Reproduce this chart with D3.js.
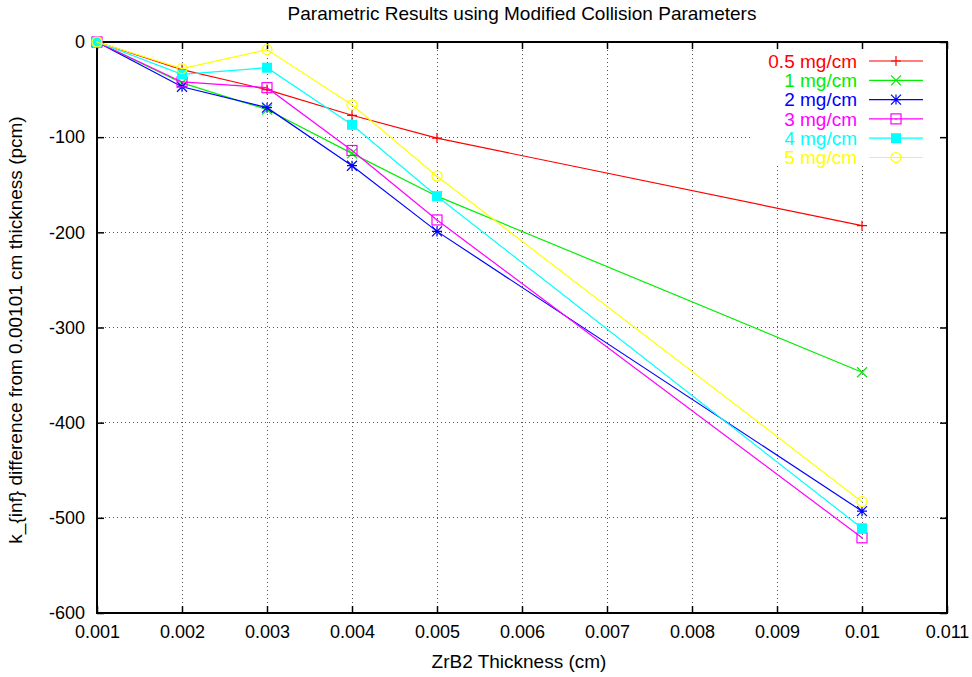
<!DOCTYPE html>
<html>
<head>
<meta charset="utf-8">
<script src="https://cdn.jsdelivr.net/npm/d3@7"></script>
<style>
  body { margin: 0; background: #fff; }
  svg { font-family: "Liberation Sans", Arial, sans-serif; }
</style>
</head>
<body>
<svg id="chart" width="972" height="677"></svg>
<script>
// thickness values (cm)
const thickness = [0.001, 0.002, 0.003, 0.004, 0.005, 0.01];

// k_inf difference (pcm) for each collision parameter
const s05 = [0, -29, -50, -77, -101, -193];
const s1 = [0, -43, -71, -117, -162, -347];
const s2 = [0, -47, -69, -130, -199, -493];
const s3 = [0, -42, -48, -114, -187, -521];
const s4 = [0, -34, -27, -87, -162, -511];
const s5 = [0, -28, -8, -66, -141, -483];

const seriesNames = ["0.5 mg/cm", "1 mg/cm", "2 mg/cm", "3 mg/cm", "4 mg/cm", "5 mg/cm"];
const seriesColors = ["#ff0000", "#00ee00", "#0000ff", "#ff00ff", "#00ffff", "#ffff00"];
const seriesMarkers = ["plus", "cross", "star", "box", "fillbox", "circle"];
const seriesValues = [s05, s1, s2, s3, s4, s5];

const xTicks = [0.001, 0.002, 0.003, 0.004, 0.005, 0.006, 0.007, 0.008, 0.009, 0.01, 0.011];
const yTicks = [0, -100, -200, -300, -400, -500, -600];

const svg = d3.select("#chart");
const margin = {left: 97, right: 25, top: 42, bottom: 64};
const W = 972, H = 677;

const x = d3.scaleLinear().domain([0.001, 0.011]).range([margin.left, W - margin.right]);
const y = d3.scaleLinear().domain([-600, 0]).range([H - margin.bottom, margin.top]);

// grid
svg.append("g").selectAll("line").data(xTicks.slice(1, -1)).enter().append("line")
    .attr("x1", d => x(d)).attr("x2", d => x(d))
    .attr("y1", y(0)).attr("y2", y(-600))
    .attr("stroke", "#555").attr("stroke-width", 1).attr("stroke-dasharray", "1,3")
    .attr("shape-rendering", "crispEdges");
svg.append("g").selectAll("line").data(yTicks.slice(1, -1)).enter().append("line")
    .attr("x1", x(0.001)).attr("x2", x(0.011))
    .attr("y1", d => y(d)).attr("y2", d => y(d))
    .attr("stroke", "#555").attr("stroke-width", 1).attr("stroke-dasharray", "1,3")
    .attr("shape-rendering", "crispEdges");

// legend background hides grid
svg.append("rect").attr("x", 753).attr("y", 44).attr("width", 192).attr("height", 121).attr("fill", "#fff");

// axes with inward ticks, mirrored
svg.append("g").attr("transform", `translate(0,${y(-600)})`)
    .call(d3.axisBottom(x).tickValues(xTicks).tickSize(-7).tickPadding(12).tickFormat(d => +d.toFixed(3) + ""))
    .call(g => g.select(".domain").remove());
svg.append("g").attr("transform", `translate(0,${y(0)})`)
    .call(d3.axisTop(x).tickValues(xTicks).tickSize(-7).tickFormat(""))
    .call(g => g.select(".domain").remove());
svg.append("g").attr("transform", `translate(${x(0.001)},0)`)
    .call(d3.axisLeft(y).tickValues(yTicks).tickSize(-7).tickPadding(12).tickFormat(d => String(d)))
    .call(g => g.select(".domain").remove());
svg.append("g").attr("transform", `translate(${x(0.011)},0)`)
    .call(d3.axisRight(y).tickValues(yTicks).tickSize(-7).tickFormat(""))
    .call(g => g.select(".domain").remove());

svg.selectAll(".tick line").attr("stroke", "#000").attr("stroke-width", 1.5);
svg.selectAll(".tick text").attr("font-size", 18).attr("fill", "#000")
    .attr("font-family", "Liberation Sans, Arial, sans-serif");

// frame
svg.append("rect").attr("x", x(0.001)).attr("y", y(0))
    .attr("width", x(0.011) - x(0.001)).attr("height", y(-600) - y(0))
    .attr("fill", "none").attr("stroke", "#000").attr("stroke-width", 2);

function drawMarker(g, kind, cx, cy, color) {
    const s = 5;
    if (kind === "plus") {
        g.append("path").attr("d", `M${cx - s},${cy}H${cx + s}M${cx},${cy - s}V${cy + s}`)
            .attr("stroke", color).attr("stroke-width", 1.2).attr("fill", "none");
    } else if (kind === "cross") {
        g.append("path").attr("d", `M${cx - s},${cy - s}L${cx + s},${cy + s}M${cx - s},${cy + s}L${cx + s},${cy - s}`)
            .attr("stroke", color).attr("stroke-width", 1.2).attr("fill", "none");
    } else if (kind === "star") {
        g.append("path").attr("d", `M${cx - s},${cy}H${cx + s}M${cx},${cy - s}V${cy + s}M${cx - s},${cy - s}L${cx + s},${cy + s}M${cx - s},${cy + s}L${cx + s},${cy - s}`)
            .attr("stroke", color).attr("stroke-width", 1.2).attr("fill", "none");
    } else if (kind === "box") {
        g.append("rect").attr("x", cx - s).attr("y", cy - s).attr("width", 2 * s).attr("height", 2 * s)
            .attr("stroke", color).attr("stroke-width", 1.2).attr("fill", "none");
        g.append("rect").attr("x", cx - 0.7).attr("y", cy - 0.7).attr("width", 1.4).attr("height", 1.4).attr("fill", color);
    } else if (kind === "fillbox") {
        g.append("rect").attr("x", cx - s).attr("y", cy - s).attr("width", 2 * s).attr("height", 2 * s)
            .attr("fill", color);
    } else if (kind === "circle") {
        g.append("circle").attr("cx", cx).attr("cy", cy).attr("r", s)
            .attr("stroke", color).attr("stroke-width", 1.2).attr("fill", "none");
        g.append("rect").attr("x", cx - 0.7).attr("y", cy - 0.7).attr("width", 1.4).attr("height", 1.4).attr("fill", color);
    }
}

const line = d3.line().x(d => x(d[0])).y(d => y(d[1]));

seriesValues.forEach((vals, i) => {
    const pts = thickness.map((t, j) => [t, vals[j]]);
    const g = svg.append("g");
    g.append("path").datum(pts).attr("d", line)
        .attr("fill", "none").attr("stroke", seriesColors[i]).attr("stroke-width", 1.2);
    pts.forEach(p => drawMarker(g, seriesMarkers[i], x(p[0]), y(p[1]), seriesColors[i]));
});

// legend
seriesNames.forEach((name, i) => {
    const ly = 61 + i * 19.3;
    svg.append("text").attr("x", 857).attr("y", ly).attr("dy", "0.35em")
        .attr("text-anchor", "end").attr("font-size", 19).attr("fill", seriesColors[i]).text(name);
    svg.append("line").attr("x1", 869).attr("x2", 923).attr("y1", ly).attr("y2", ly)
        .attr("stroke", seriesColors[i]).attr("stroke-width", 1.2);
    drawMarker(svg.append("g"), seriesMarkers[i], 896, ly, seriesColors[i]);
});

// titles
svg.append("text").attr("x", 522).attr("y", 20).attr("text-anchor", "middle")
    .attr("font-size", 19).text("Parametric Results using Modified Collision Parameters");
svg.append("text").attr("x", 519).attr("y", 668).attr("text-anchor", "middle")
    .attr("font-size", 19).text("ZrB2 Thickness (cm)");
svg.append("text").attr("transform", "translate(22,330) rotate(-90)").attr("text-anchor", "middle")
    .attr("font-size", 19).text("k_{inf} difference from 0.00101 cm thickness (pcm)");
</script>
</body>
</html>
